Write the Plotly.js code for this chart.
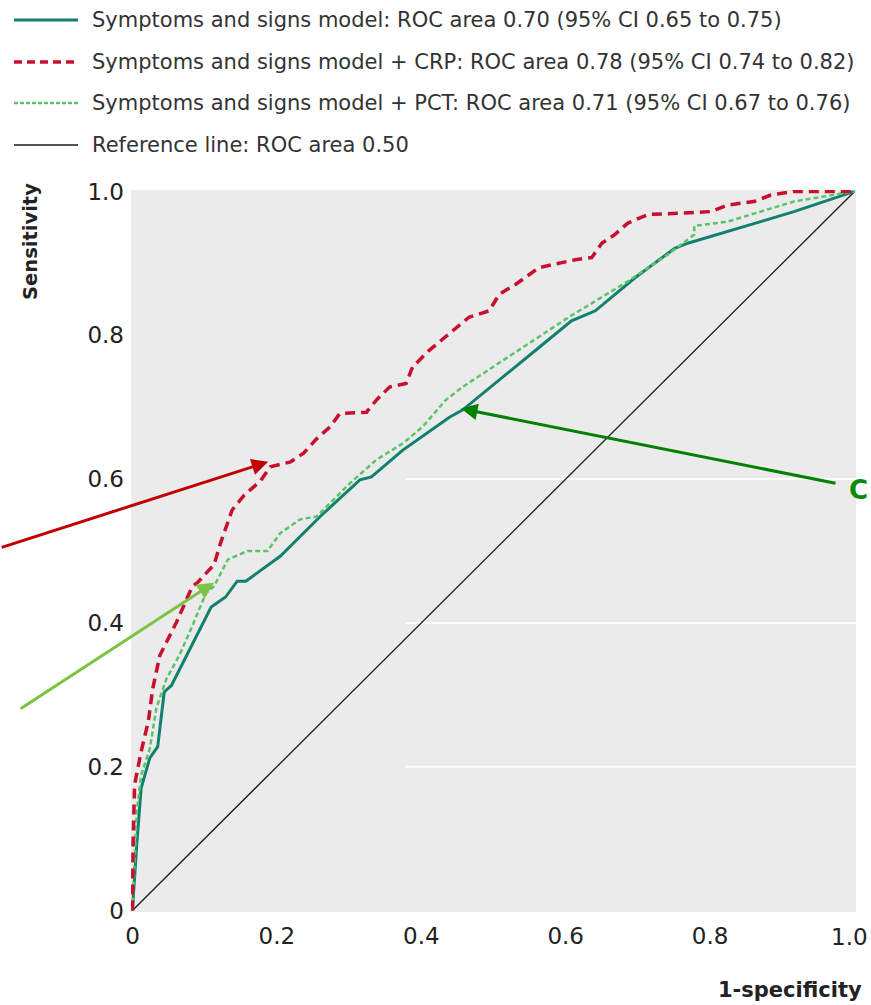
<!DOCTYPE html>
<html>
<head>
<meta charset="utf-8">
<script src="https://cdn.plot.ly/plotly-3.0.1.min.js"></script>
<style>html,body{margin:0;padding:0;background:#fff;}#chart{width:871px;height:1005px;}</style>
</head>
<body>
<div id="chart"></div>
<script>
// ---- Data ----
const seriesNames = [
  "Symptoms and signs model: ROC area 0.70 (95% CI 0.65 to 0.75)",
  "Symptoms and signs model + CRP: ROC area 0.78 (95% CI 0.74 to 0.82)",
  "Symptoms and signs model + PCT: ROC area 0.71 (95% CI 0.67 to 0.76)",
  "Reference line: ROC area 0.50"
];

const symptomsX = [0, 0.003, 0.006, 0.012, 0.024, 0.035, 0.044, 0.054, 0.099, 0.109, 0.129, 0.145, 0.157, 0.205, 0.26, 0.315, 0.331, 0.374, 0.439, 0.457, 0.563, 0.608, 0.641, 0.696, 0.751, 0.769, 0.870, 0.916, 1.0];
const symptomsY = [0, 0.05, 0.092, 0.170, 0.212, 0.228, 0.304, 0.313, 0.401, 0.422, 0.436, 0.458, 0.458, 0.493, 0.548, 0.599, 0.603, 0.640, 0.686, 0.696, 0.783, 0.820, 0.834, 0.880, 0.921, 0.928, 0.958, 0.972, 1.0];

const crpX = [0, 0.001, 0.003, 0.012, 0.022, 0.028, 0.038, 0.061, 0.083, 0.090, 0.113, 0.122, 0.138, 0.155, 0.177, 0.191, 0.219, 0.237, 0.255, 0.274, 0.287, 0.324, 0.338, 0.356, 0.379, 0.388, 0.411, 0.439, 0.466, 0.494, 0.508, 0.531, 0.563, 0.613, 0.636, 0.650, 0.668, 0.686, 0.714, 0.764, 0.801, 0.824, 0.861, 0.884, 0.916, 1.0];
const crpY = [0, 0.10, 0.175, 0.221, 0.263, 0.308, 0.355, 0.401, 0.451, 0.456, 0.481, 0.511, 0.557, 0.578, 0.597, 0.617, 0.624, 0.636, 0.656, 0.673, 0.691, 0.693, 0.710, 0.728, 0.733, 0.756, 0.779, 0.802, 0.825, 0.834, 0.857, 0.871, 0.894, 0.905, 0.908, 0.928, 0.940, 0.956, 0.968, 0.970, 0.972, 0.981, 0.986, 0.995, 1.0, 1.0];

const pctX = [0, 0.006, 0.012, 0.024, 0.033, 0.047, 0.065, 0.083, 0.102, 0.113, 0.132, 0.159, 0.187, 0.205, 0.232, 0.255, 0.283, 0.301, 0.338, 0.375, 0.402, 0.434, 0.457, 0.526, 0.604, 0.686, 0.741, 0.778, 0.778, 0.824, 0.870, 0.916, 1.0];
const pctY = [0, 0.138, 0.188, 0.225, 0.281, 0.322, 0.355, 0.396, 0.442, 0.451, 0.488, 0.500, 0.500, 0.525, 0.544, 0.548, 0.576, 0.594, 0.627, 0.650, 0.673, 0.710, 0.728, 0.774, 0.825, 0.875, 0.912, 0.940, 0.952, 0.958, 0.972, 0.986, 1.0];

const refX = [0, 1];
const refY = [0, 1];

const tickVals = [0, 0.2, 0.4, 0.6, 0.8, 1.0];
const tickText = ["0", "0.2", "0.4", "0.6", "0.8", "1.0"];

// ---- Layout constants ----
const W = 871, H = 1005;
const M = {l: 131, r: 15, t: 190, b: 93};
const PW = W - M.l - M.r, PH = H - M.t - M.b;
const px2x = p => (p - M.l) / PW;
const py2y = p => (H - M.b - p) / PH;

const FONT = "'DejaVu Sans', 'Open Sans', sans-serif";
const colors = ["#12806f", "#c8102e", "#5cc36a", "#1a1a1a"];
const dashes = ["solid", "10px,6px", "5px,3px", "solid"];
const widths = [3, 3.5, 2.5, 1.3];
const TICKFONT = {family: FONT, size: 23, color: "#222"};

const xs = [symptomsX, crpX, pctX, refX];
const ys = [symptomsY, crpY, pctY, refY];
const order = [3, 0, 2, 1];

const traces = order.map(i => ({
  x: xs[i], y: ys[i], type: "scatter", mode: "lines", name: seriesNames[i],
  line: {color: colors[i], width: widths[i], dash: dashes[i]},
  showlegend: false, hoverinfo: "x+y"
}));

// custom legend (long line samples like the original)
const legendRowsPx = [20, 62, 103, 145];
const shapes = [];
const annotations = [];
legendRowsPx.forEach((py, i) => {
  shapes.push({type: "line", xref: "paper", yref: "paper",
    x0: px2x(14), x1: px2x(78), y0: py2y(py), y1: py2y(py),
    line: {color: colors[i], width: i === 3 ? 1.5 : widths[i], dash: i === 1 ? "8px,5px" : (i === 2 ? "4px,2px" : "solid")}});
  annotations.push({xref: "paper", yref: "paper", x: px2x(90), y: py2y(py),
    xanchor: "left", yanchor: "middle", showarrow: false, text: seriesNames[i],
    font: {family: FONT, size: 21, color: "#333"}});
});

// faint white bands seen in the original background
[0.2, 0.4, 0.6].forEach(v => {
  shapes.push({type: "line", xref: "paper", yref: "y", layer: "below",
    x0: px2x(405), x1: 1, y0: v, y1: v, line: {color: "#ffffff", width: 2}});
});

// axis titles
annotations.push({xref: "paper", yref: "paper", x: px2x(30), y: py2y(242),
  text: "<b>Sensitivity</b>", textangle: -90, showarrow: false,
  xanchor: "center", yanchor: "middle", font: {family: FONT, size: 19.5, color: "#222"}});
annotations.push({xref: "paper", yref: "paper", x: px2x(716), y: py2y(990),
  text: "<b>1-specificity</b>", showarrow: false,
  xanchor: "left", yanchor: "middle", font: {family: FONT, size: 21, color: "#222"}});

// last x tick label, nudged left so it stays inside the page
const lastIdx = tickText.length - 1;
annotations.push({xref: "paper", yref: "paper", x: px2x(870), y: py2y(937),
  text: tickText[lastIdx], showarrow: false, xanchor: "right", yanchor: "middle", font: TICKFONT});

// pointer arrows
annotations.push({x: 0.188, y: 0.624, xref: "x", yref: "y", axref: "pixel", ayref: "pixel",
  ax: -268, ay: 86, showarrow: true, arrowhead: 2, arrowsize: 1.1, arrowwidth: 3, arrowcolor: "#c00000", text: ""});
annotations.push({x: 0.113, y: 0.456, xref: "x", yref: "y", axref: "pixel", ayref: "pixel",
  ax: -195, ay: 127, showarrow: true, arrowhead: 2, arrowsize: 1.1, arrowwidth: 3, arrowcolor: "#7dc242", text: ""});
annotations.push({x: 0.455, y: 0.698, xref: "x", yref: "y", axref: "pixel", ayref: "pixel",
  ax: 376, ay: 75, showarrow: true, arrowhead: 2, arrowsize: 1.1, arrowwidth: 3, arrowcolor: "#008000", text: ""});
annotations.push({xref: "paper", yref: "paper", x: px2x(870), y: py2y(490),
  text: "<b>C</b>", showarrow: false, xanchor: "right", yanchor: "middle",
  font: {family: FONT, size: 26, color: "#0a8a0a"}});

const axisCommon = {
  range: [-0.002, 1.002], tickvals: tickVals, ticktext: tickText,
  showgrid: false, zeroline: false, showline: false, ticks: "",
  tickfont: TICKFONT, fixedrange: true
};

const layout = {
  width: W, height: H, margin: M,
  paper_bgcolor: "#ffffff", plot_bgcolor: "#ebebeb",
  xaxis: Object.assign({}, axisCommon, {ticklabelstandoff: 8,
    tickvals: tickVals.slice(0, lastIdx), ticktext: tickText.slice(0, lastIdx)}),
  yaxis: Object.assign({}, axisCommon, {ticklabelstandoff: 6}),
  shapes: shapes, annotations: annotations, showlegend: false
};

Plotly.newPlot("chart", traces, layout, {displayModeBar: false, staticPlot: true});
</script>
</body>
</html>
